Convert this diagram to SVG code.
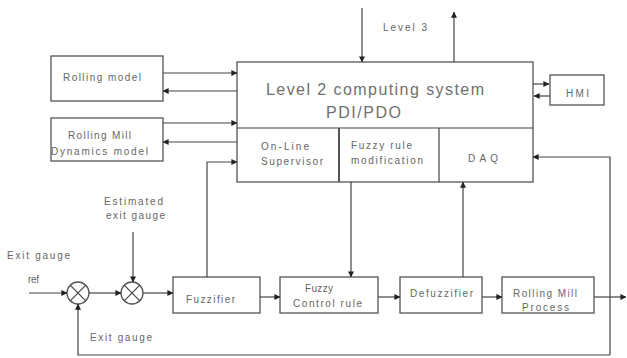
<svg xmlns="http://www.w3.org/2000/svg" width="627" height="358" viewBox="0 0 627 358">
<style>
.box{fill:#fff;stroke:#555;stroke-width:1.3}
.ln{fill:none;stroke:#444;stroke-width:1.2}
.t{font-family:"Liberation Sans",Arial,sans-serif;font-size:10px;fill:#666}
.big{font-family:"Liberation Sans",Arial,sans-serif;font-size:16px;fill:#707070}
</style>
<defs>
<marker id="a" viewBox="0 0 8 8" refX="7.5" refY="4" markerWidth="6" markerHeight="6" markerUnits="userSpaceOnUse" orient="auto">
<path d="M0,0 L8,4 L0,8 Z" fill="#222"/>
</marker>
</defs>
<rect width="627" height="358" fill="#fff"/>

<g id="main">
<rect class="box" x="237" y="62" width="296" height="120"/>
<line class="ln" x1="237" y1="128" x2="533" y2="128"/>
<line x1="339" y1="128" x2="339" y2="182" stroke="#555" stroke-width="2"/>
<line class="ln" x1="439" y1="128" x2="439" y2="182"/>
<text class="big" x="266" y="95" textLength="218" lengthAdjust="spacing">Level 2 computing system</text>
<text class="big" x="326" y="118" textLength="75" lengthAdjust="spacing">PDI/PDO</text>
</g>
<g id="supervisor">
<text class="t" x="261" y="150" textLength="48" lengthAdjust="spacing">On-Line</text>
<text class="t" x="261" y="165" textLength="62" lengthAdjust="spacing">Supervisor</text>
</g>
<g id="fuzzyrule">
<text class="t" x="351" y="149" textLength="61" lengthAdjust="spacing">Fuzzy rule</text>
<text class="t" x="351" y="164" textLength="72" lengthAdjust="spacing">modification</text>
</g>
<g id="daq">
<text class="t" x="468" y="162" textLength="30" lengthAdjust="spacing">DAQ</text>
</g>

<g id="rollingmodel">
<rect class="box" x="51" y="56" width="112" height="45"/>
<text class="t" x="63" y="81" textLength="78" lengthAdjust="spacing">Rolling model</text>
</g>
<g id="dynamics">
<rect class="box" x="51" y="118" width="112" height="43"/>
<text class="t" x="68" y="139" textLength="63" lengthAdjust="spacing">Rolling Mill</text>
<text class="t" x="51" y="155" textLength="97" lengthAdjust="spacing">Dynamics model</text>
</g>
<g id="hmi">
<rect class="box" x="550" y="75" width="54" height="30"/>
<text class="t" x="566" y="97" textLength="23" lengthAdjust="spacing">HMI</text>
</g>
<g id="level3">
<text class="t" x="383" y="31" textLength="44" lengthAdjust="spacing">Level 3</text>
</g>

<g id="fuzzifier">
<rect class="box" x="173" y="277" width="87" height="36"/>
<text class="t" x="186" y="303" textLength="49" lengthAdjust="spacing">Fuzzifier</text>
</g>
<g id="fuzzycontrol">
<rect class="box" x="280" y="277" width="98" height="36"/>
<text class="t" x="305" y="292" textLength="28" lengthAdjust="spacing">Fuzzy</text>
<text class="t" x="293" y="307" textLength="69" lengthAdjust="spacing">Control rule</text>
</g>
<g id="defuzzifier">
<rect class="box" x="400" y="277" width="82" height="36"/>
<text class="t" x="410" y="297" textLength="63" lengthAdjust="spacing">Defuzzifier</text>
</g>
<g id="process">
<rect class="box" x="502" y="277" width="92" height="36"/>
<text class="t" x="513" y="297" textLength="64" lengthAdjust="spacing">Rolling Mill</text>
<text class="t" x="522" y="311" textLength="47" lengthAdjust="spacing">Process</text>
</g>

<g id="sum1">
<circle class="box" cx="78" cy="293" r="11"/>
<path class="ln" d="M70.2,285.2 L85.8,300.8 M85.8,285.2 L70.2,300.8" stroke-width="0.9"/>
</g>
<g id="sum2">
<circle class="box" cx="132" cy="293" r="11"/>
<path class="ln" d="M124.2,285.2 L139.8,300.8 M139.8,285.2 L124.2,300.8" stroke-width="0.9"/>
</g>

<g id="labels">
<text class="t" x="7" y="259" textLength="63" lengthAdjust="spacing">Exit gauge</text>
<text class="t" x="28" y="283" textLength="11" lengthAdjust="spacing">ref</text>
<text class="t" x="104" y="205" textLength="59" lengthAdjust="spacing">Estimated</text>
<text class="t" x="106" y="219" textLength="59" lengthAdjust="spacing">exit gauge</text>
<text class="t" x="90" y="341" textLength="62" lengthAdjust="spacing">Exit gauge</text>
</g>

<g id="connectors">
<line class="ln" x1="163" y1="73" x2="237" y2="73" marker-end="url(#a)"/>
<line class="ln" x1="237" y1="91" x2="163" y2="91" marker-end="url(#a)"/>
<line class="ln" x1="163" y1="123" x2="237" y2="123" marker-end="url(#a)"/>
<line class="ln" x1="237" y1="142" x2="163" y2="142" marker-end="url(#a)"/>
<line class="ln" x1="362" y1="8" x2="362" y2="62" marker-end="url(#a)"/>
<line class="ln" x1="454" y1="62" x2="454" y2="12" marker-end="url(#a)"/>
<line class="ln" x1="533" y1="84" x2="549" y2="84" marker-end="url(#a)"/>
<line class="ln" x1="550" y1="96" x2="534" y2="96" marker-end="url(#a)"/>
<polyline class="ln" points="207,277 207,162 237,162" marker-end="url(#a)"/>
<line class="ln" x1="351" y1="182" x2="351" y2="277" marker-end="url(#a)"/>
<line class="ln" x1="463" y1="277" x2="463" y2="182" marker-end="url(#a)"/>
<polyline class="ln" points="610,355 610,157 533,157" marker-end="url(#a)"/>
<line class="ln" x1="29" y1="293" x2="67" y2="293" marker-end="url(#a)"/>
<line class="ln" x1="89" y1="293" x2="121" y2="293" marker-end="url(#a)"/>
<line class="ln" x1="143" y1="293" x2="173" y2="293" marker-end="url(#a)"/>
<line class="ln" x1="133" y1="232" x2="133" y2="282" marker-end="url(#a)"/>
<polyline class="ln" points="610,355 78,355 78,304" marker-end="url(#a)"/>
<line class="ln" x1="260" y1="297" x2="280" y2="297" marker-end="url(#a)"/>
<line class="ln" x1="378" y1="297" x2="400" y2="297" marker-end="url(#a)"/>
<line class="ln" x1="482" y1="297" x2="502" y2="297" marker-end="url(#a)"/>
<line class="ln" x1="594" y1="297" x2="626" y2="297" marker-end="url(#a)"/>
</g>
</svg>
